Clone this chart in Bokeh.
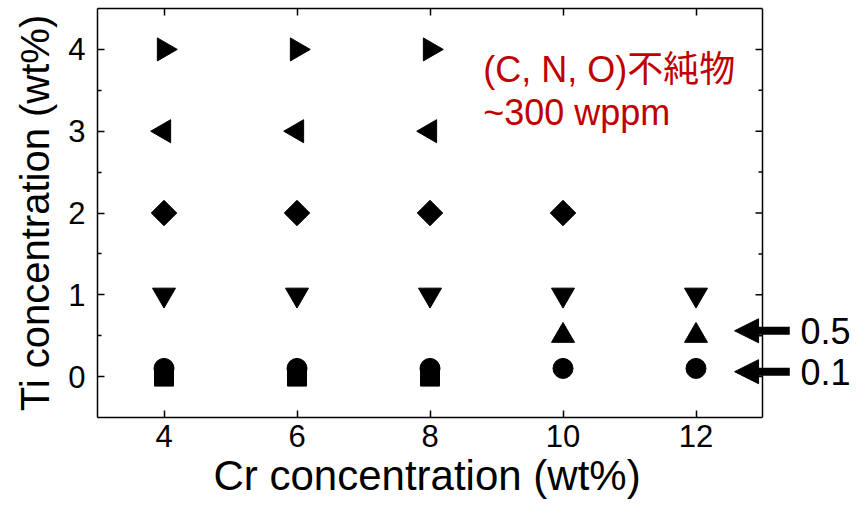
import math
from bokeh.plotting import figure
from bokeh.models import FixedTicker, LinearAxis, Label, Arrow, NormalHead, Range1d, Title
from bokeh.embed import file_html
from bokeh.resources import INLINE

# ---- data (Cr wt%, Ti wt%) ----
sq_cr = [4, 6, 8]
sq_ti = [0, 0, 0]
ci_cr = [4, 6, 8, 10, 12]
ci_ti = [0.1, 0.1, 0.1, 0.1, 0.1]
up_cr = [10, 12]
up_ti = [0.5, 0.5]
dn_cr = [4, 6, 8, 10, 12]
dn_ti = [1, 1, 1, 1, 1]
di_cr = [4, 6, 8, 10]
di_ti = [2, 2, 2, 2]
lt_cr = [4, 6, 8]
lt_ti = [3, 3, 3]
rt_cr = [4, 6, 8]
rt_ti = [4, 4, 4]

x_ticks = [4, 6, 8, 10, 12]
y_ticks = [0, 1, 2, 3, 4]
y_minor = [0.5, 1.5, 2.5, 3.5]
x_title = "Cr concentration (wt%)"
y_title = "Ti concentration (wt%)"
note_lines = ["(C, N, O)不純物", "~300 wppm"]
arrow_labels = ["0.5", "0.1"]
arrow_y = [0.56, 0.06]

# axis box (data limits of the drawn frame)
X_LO, X_HI = 3, 13
Y_LO, Y_HI = -0.5, 4.5

FONT = "Liberation Sans, Arial, sans-serif"
CJK = "Liberation Sans, 'Noto Sans CJK JP', sans-serif"
RED = "#C00000"

W, H = 863, 505
BL, BR, BT, BB = 97, 0, 8, 88
BOX_W = 665                      # pixel width of the drawn box
frame_w = W - BL - BR
px_per_x = BOX_W / (X_HI - X_LO)
x_end = X_LO + frame_w / px_per_x  # extra room on the right for arrows/labels

p = figure(width=W, height=H, output_backend="svg", toolbar_location=None,
           x_range=Range1d(X_LO, x_end), y_range=Range1d(Y_LO, Y_HI),
           min_border_left=BL, min_border_right=BR, min_border_top=BT, min_border_bottom=BB)
p.grid.visible = False
p.outline_line_color = None
p.background_fill_color = "white"
p.border_fill_color = "white"

xa = p.xaxis[0]
ya = p.yaxis[0]
xa.ticker = FixedTicker(ticks=x_ticks)
xa.bounds = (X_LO, X_HI)
ya.ticker = FixedTicker(ticks=y_ticks, minor_ticks=y_minor)
ya.axis_label = y_title
for ax in (xa, ya):
    ax.axis_line_color = "black"
    ax.axis_line_width = 1.5
    ax.major_tick_in = 7
    ax.major_tick_out = 0
    ax.minor_tick_in = 4
    ax.minor_tick_out = 0
    ax.major_tick_line_width = 1.5
    ax.minor_tick_line_width = 1.5
    ax.major_label_text_font = FONT
    ax.major_label_text_font_size = "31px"
    ax.major_label_text_color = "black"
    ax.axis_label_text_font = FONT
    ax.axis_label_text_font_size = "40px"
    ax.axis_label_text_font_style = "normal"
    ax.axis_label_text_color = "black"
xa.major_label_standoff = 7
ya.major_label_standoff = 12
ya.axis_label_standoff = 8

# x-axis title, centred under the drawn box (not the wider frame)
p.add_layout(Title(text=x_title, align="left", offset=116, standoff=0,
                   text_font=FONT, text_font_size="42px", text_font_style="normal",
                   text_color="black"), "below")

top = LinearAxis(ticker=FixedTicker(ticks=x_ticks), bounds=(X_LO, X_HI),
                 major_label_overrides={t: "" for t in x_ticks},
                 major_label_text_font_size="0px",
                 axis_line_color="black", axis_line_width=1.5,
                 major_tick_in=7, major_tick_out=0,
                 major_tick_line_width=1.5, minor_tick_line_color=None,
                 major_label_standoff=0)
p.add_layout(top, "above")

# right edge of the box with inward ticks
p.segment(x0=[X_HI], y0=[Y_LO], x1=[X_HI], y1=[Y_HI], line_color="black", line_width=1.5)
p.segment(x0=[X_HI] * len(y_ticks), y0=y_ticks,
          x1=[X_HI - 7 / px_per_x] * len(y_ticks), y1=y_ticks,
          line_color="black", line_width=1.5)
p.segment(x0=[X_HI] * len(y_minor), y0=y_minor,
          x1=[X_HI - 4 / px_per_x] * len(y_minor), y1=y_minor,
          line_color="black", line_width=1.5)

# ---- markers ----
p.scatter(sq_cr, sq_ti, marker="square", size=19, color="black")
p.scatter(ci_cr, ci_ti, marker="circle", size=20, color="black")
p.scatter(up_cr, up_ti, marker="triangle", size=23, color="black")
p.scatter(dn_cr, dn_ti, marker="inverted_triangle", size=23, color="black")
p.scatter(di_cr, di_ti, marker="square", size=18, angle=math.pi / 4, color="black")
p.scatter(lt_cr, lt_ti, marker="triangle", size=23, angle=math.pi / 2, color="black")
p.scatter(rt_cr, rt_ti, marker="triangle", size=23, angle=-math.pi / 2, color="black")

# ---- red note ----
p.add_layout(Label(x=8.8, y=3.755, text=note_lines[0], text_font=CJK,
                   text_font_size="36px", text_color=RED, text_baseline="alphabetic"))
p.add_layout(Label(x=8.8, y=3.227, text=note_lines[1], text_font=CJK,
                   text_font_size="36px", text_color=RED, text_baseline="alphabetic"))

# ---- arrows to the right of the box ----
for lab, yy in zip(arrow_labels, arrow_y):
    p.add_layout(Arrow(x_start=13.41, y_start=yy, x_end=12.58, y_end=yy,
                       line_width=8, line_color="black",
                       end=NormalHead(size=24, fill_color="black", line_color="black", line_width=1)))
    p.add_layout(Label(x=13.57, y=yy, text=lab, text_font=FONT, text_font_size="36px",
                       text_color="black", text_baseline="middle"))

open("out.html", "w").write(file_html(p, INLINE))
